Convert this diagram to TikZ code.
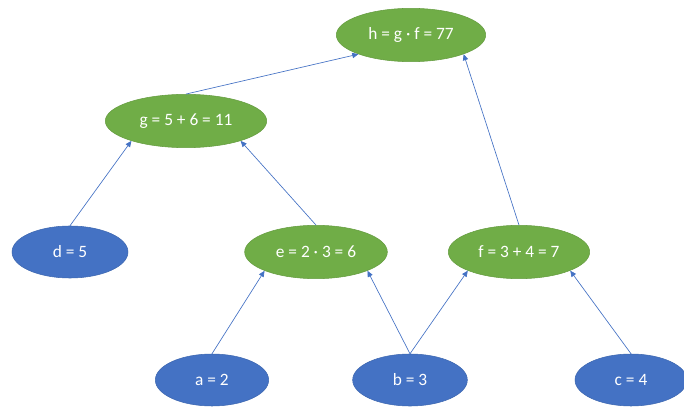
\documentclass[tikz,border=0pt]{standalone}
\usepackage{fontspec}
\setmainfont{Carlito}
\usepackage{xcolor}
\usetikzlibrary{arrows.meta,shapes.geometric}
\definecolor{opgreen}{HTML}{70AD47}
\definecolor{leafblue}{HTML}{4472C4}
\definecolor{wireblue}{HTML}{4472C4}
\tikzset{
  opnode/.style={ellipse,draw=opgreen!90!black,fill=opgreen,line width=0.4pt,
                 inner sep=0pt,minimum height=40pt,text=white,
                 font=\fontsize{13}{15}\selectfont},
  leafnode/.style={ellipse,draw=leafblue!90!black,fill=leafblue,line width=0.4pt,
                   inner sep=0pt,minimum height=39pt,text=white,
                   font=\fontsize{13}{15}\selectfont},
  wirearr/.style={-{Triangle[length=1.6mm,width=1.4mm]},line width=0.5pt,
                  draw=wireblue}
}
\begin{document}
\begin{tikzpicture}[x=0.75pt,y=-0.75pt]
    \useasboundingbox (0,0) rectangle (684,409);
    % operations
    \node[opnode,minimum width=112pt] (h) at (411,35) {h = g · f = 77};
    \node[opnode,minimum width=121pt] (g) at (186,121) {g = 5 + 6 = 11};
    \node[opnode,minimum width=107pt] (e) at (316,252) {e = 2 · 3 = 6};
    \node[opnode,minimum width=106pt] (f) at (519,252) {f = 3 + 4 = 7};
    % leaves
    \node[leafnode,minimum width=87pt] (d) at (70,252) {d = 5};
    \node[leafnode,minimum width=85pt] (a) at (212,380) {a = 2};
    \node[leafnode,minimum width=86pt] (b) at (410,380) {b = 3};
    \node[leafnode,minimum width=84pt] (c) at (631,380) {c = 4};
    % edges
    \draw[wirearr] (d.north) -- (g.200);
    \draw[wirearr] (e.north) -- (g.340);
    \draw[wirearr] (g.north) -- (h.200);
    \draw[wirearr] (f.north) -- (h.340);
    \draw[wirearr] (a.north) -- (e.200);
    \draw[wirearr] (b.north) -- (e.340);
    \draw[wirearr] (b.north) -- (f.200);
    \draw[wirearr] (c.north) -- (f.340);
\end{tikzpicture}
\end{document}
